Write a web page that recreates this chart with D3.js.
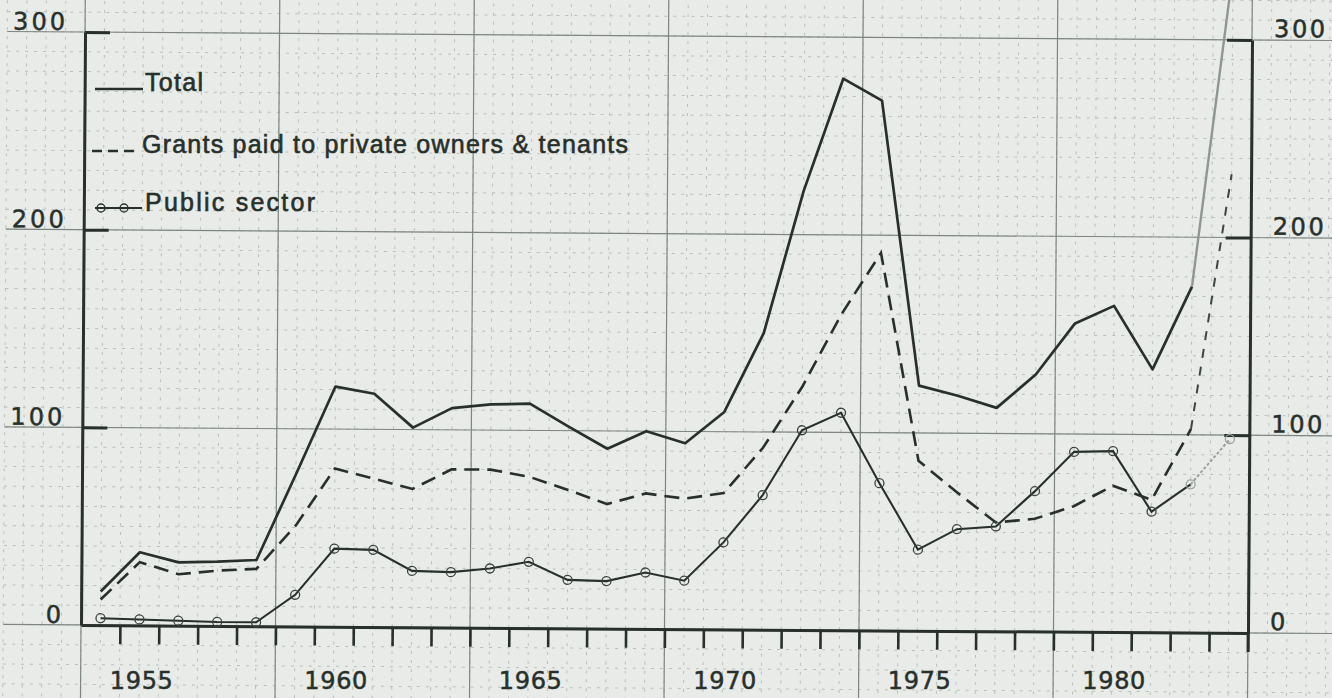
<!DOCTYPE html>
<html><head><meta charset="utf-8">
<script src="https://cdn.jsdelivr.net/npm/d3@7"></script>
<style>
html,body{margin:0;padding:0;background:#e9ebe8;overflow:hidden;}
svg{display:block;}
text{font-family:"Liberation Sans",Arial,sans-serif;fill:#27302b;stroke:#27302b;stroke-width:0.6px;}
text.num{font-family:"DejaVu Sans",sans-serif;stroke-width:0.5px;}
</style></head><body>
<svg id="chart" width="1332" height="698"></svg>
<script>
// ---- data ----
const years = [1954,1955,1956,1957,1958,1959,1960,1961,1962,1963,1964,1965,1966,1967,1968,1969,
               1970,1971,1972,1973,1974,1975,1976,1977,1978,1979,1980,1981,1982,1983];
const total = [17,37,32,32.5,33.5,77,121.5,118,101,111,113,113.5,102,91,100,94,
               110,150,222,279,268,124,119,113,130,156,165,133,175,335];
const grants = [13,32,26,28,29,51,80,75,70,80,80,76.5,70,63,68.5,66,
                69,92,123,160,191,86,70,55,57,63.5,74,67,103,232];
const publicSector = [3.5,3,2.5,2,2,16,39.5,39,28.5,28,30,33.5,24.5,24,28.5,24.5,
                      44,68,101,110,74.5,41,51.5,53,71,91,91.5,61,75,98];
const yTickValues = [0,100,200,300];
const xLabelYears = [1955,1960,1965,1970,1975,1980];
const seriesNames = ["Total","Grants paid to private owners & tenants","Public sector"];

// ---- layout ----
const INK = "#27302b";
const svg = d3.select("#chart");
const x = d3.scaleLinear().domain([years[0]-0.5, years[years.length-1]+0.5]).range([81,1248]);
const y = d3.scaleLinear().domain([0,300]).range([625,32]);

// scanned page is slightly rotated
const g = svg.append("g").attr("transform","rotate(0.39,81,625)");

// ---- graph paper grid ----
const gx0 = 1951.5, gx1 = 1986, gy0 = -50, gy1 = 350;
const grid = g.append("g");
const minorX = d3.range(gx0, gx1, 0.5);
const minorY = d3.range(gy0, gy1, 10);
grid.selectAll(".vmin").data(minorX).join("line")
  .attr("x1",d=>x(d)).attr("x2",d=>x(d)).attr("y1",y(gy0)).attr("y2",y(gy1))
  .attr("stroke","#b9c0bb").attr("stroke-width",1).attr("stroke-dasharray","3,6");
grid.selectAll(".hmin").data(minorY).join("line")
  .attr("y1",d=>y(d)).attr("y2",d=>y(d)).attr("x1",x(gx0)).attr("x2",x(gx1))
  .attr("stroke","#b9c0bb").attr("stroke-width",1).attr("stroke-dasharray","3,6");
const majorX = minorX.filter(d => Math.abs(((d-1953.5)%5+5)%5) < 1e-6);
const majorY = minorY.filter(d => Math.abs(((d%100)+100)%100) < 1e-6);
grid.selectAll(".vmaj").data(majorX).join("line")
  .attr("x1",d=>x(d)).attr("x2",d=>x(d)).attr("y1",y(gy0)).attr("y2",y(gy1))
  .attr("stroke","#7d8681").attr("stroke-width",1.2);
grid.selectAll(".hmaj").data(majorY).join("line")
  .attr("y1",d=>y(d)).attr("y2",d=>y(d)).attr("x1",x(gx0)).attr("x2",x(gx1))
  .attr("stroke","#7d8681").attr("stroke-width",1.2);

// ---- axes ----
const boundaries = years.map(v=>v+0.5);
const xAxis = g.append("g").attr("transform",`translate(0,${y(0)})`)
  .call(d3.axisBottom(x).tickValues(boundaries).tickSize(19).tickSizeOuter(0).tickFormat(""));
xAxis.select(".domain").attr("stroke",INK).attr("stroke-width",3);
xAxis.selectAll(".tick line").attr("stroke",INK).attr("stroke-width",2.6);

const yl = g.append("g").attr("transform",`translate(${x(1953.5)},0)`)
  .call(d3.axisRight(y).tickValues(yTickValues.filter(v=>v>0)).tickSize(25).tickSizeOuter(0).tickFormat(""));
yl.select(".domain").attr("stroke",INK).attr("stroke-width",3);
yl.selectAll(".tick line").attr("stroke",INK).attr("stroke-width",3);
const yr = g.append("g").attr("transform",`translate(${x(1983.5)},0)`)
  .call(d3.axisLeft(y).tickValues(yTickValues.filter(v=>v>0)).tickSize(25).tickSizeOuter(0).tickFormat(""));
yr.select(".domain").attr("stroke",INK).attr("stroke-width",3);
yr.selectAll(".tick line").attr("stroke",INK).attr("stroke-width",3);
// right axis extends below baseline as a tick
g.append("line").attr("x1",x(1983.5)).attr("x2",x(1983.5)).attr("y1",y(0)).attr("y2",y(0)+19)
  .attr("stroke",INK).attr("stroke-width",2.6);

// axis labels
g.selectAll(".ylabL").data(yTickValues).join("text").attr("class","num")
  .attr("x",61).attr("y",d=>y(d)-2).attr("text-anchor","end")
  .attr("font-size",24)
  .each(function(d){ if(String(d).length>1) d3.select(this).attr("textLength",52).attr("lengthAdjust","spacing"); })
  .text(d=>d);
g.selectAll(".ylabR").data(yTickValues).join("text").attr("class","num")
  .attr("x",1270).attr("y",d=>y(d)-3).attr("text-anchor","start")
  .attr("font-size",24)
  .each(function(d){ if(String(d).length>1) d3.select(this).attr("textLength",51).attr("lengthAdjust","spacing"); })
  .text(d=>d);
// year labels (placed on the page, below the axis)
svg.append("g").selectAll(".xlab").data(xLabelYears).join("text").attr("class","num")
  .attr("x",d=>x(d)+2).attr("y",689).attr("text-anchor","middle")
  .attr("font-size",24).attr("textLength",63).attr("lengthAdjust","spacing")
  .text(d=>d);

// ---- series ----
const pts = arr => years.map((yr,i)=>[yr,arr[i]]);
const line = d3.line().x(d=>x(d[0])).y(d=>y(d[1]));
const n = years.length;
const tot = pts(total), gr = pts(grants), pub = pts(publicSector);

// main parts
g.append("path").attr("d",line(tot.slice(0,n-1))).attr("fill","none")
  .attr("stroke",INK).attr("stroke-width",2.7).attr("stroke-linejoin","round");
g.append("path").attr("d",line(gr.slice(0,n-1))).attr("fill","none")
  .attr("stroke",INK).attr("stroke-width",2.6).attr("stroke-dasharray","15,8");
g.append("path").attr("d",line(pub.slice(0,n-1))).attr("fill","none")
  .attr("stroke",INK).attr("stroke-width",2.1);
// pencilled last year
g.append("path").attr("d",line(tot.slice(n-2))).attr("fill","none")
  .attr("stroke","#8e9791").attr("stroke-width",2.4);
g.append("path").attr("d",line(gr.slice(n-2))).attr("fill","none")
  .attr("stroke","#3d4741").attr("stroke-width",2).attr("stroke-dasharray","9,9");
g.append("path").attr("d",line(pub.slice(n-2))).attr("fill","none")
  .attr("stroke","#98a19b").attr("stroke-width",2).attr("stroke-dasharray","3,2");
g.selectAll(".pm").data(pub).join("circle")
  .attr("cx",d=>x(d[0])).attr("cy",d=>y(d[1])).attr("r",4.5)
  .attr("fill","none").attr("stroke",(d,i)=>i>=n-2?"#98a19b":"#3a443e").attr("stroke-width",1.3);

// ---- legend ----
const leg = svg.append("g");
leg.append("line").attr("x1",95).attr("x2",143).attr("y1",89).attr("y2",89)
  .attr("stroke",INK).attr("stroke-width",2.6);
leg.append("line").attr("x1",92).attr("x2",140).attr("y1",151).attr("y2",151)
  .attr("stroke",INK).attr("stroke-width",2.6).attr("stroke-dasharray","10,6");
leg.append("line").attr("x1",95).attr("x2",142).attr("y1",208).attr("y2",208)
  .attr("stroke",INK).attr("stroke-width",2);
leg.selectAll(".lc").data([101,124]).join("circle")
  .attr("cx",d=>d).attr("cy",208).attr("r",4).attr("fill","none")
  .attr("stroke",INK).attr("stroke-width",1.3);
const legText = [
  {name:seriesNames[0], x:145, y:91, w:58},
  {name:seriesNames[1], x:142, y:153, w:486},
  {name:seriesNames[2], x:145, y:211, w:170}
];
leg.selectAll(".lt").data(legText).join("text")
  .attr("x",d=>d.x).attr("y",d=>d.y).attr("font-size",25)
  .attr("textLength",d=>d.w).attr("lengthAdjust","spacing")
  .text(d=>d.name);
</script>
</body></html>
